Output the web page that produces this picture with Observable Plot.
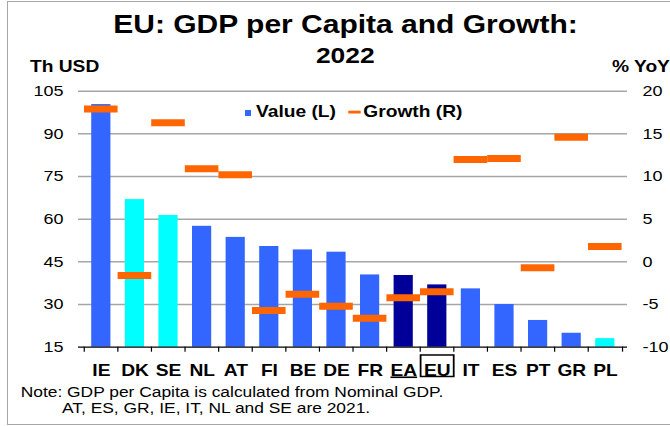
<!DOCTYPE html>
<html>
<head>
<meta charset="utf-8">
<script src="https://cdn.jsdelivr.net/npm/d3@7"></script>
<script src="https://cdn.jsdelivr.net/npm/@observablehq/plot@0.6"></script>
<style>
  html, body { margin: 0; padding: 0; background: #fff; }
  #root { position: relative; width: 670px; height: 426px; overflow: hidden; background: #fff; }
  #frame { position: absolute; left: 7px; top: 1px; width: 720px; height: 424px; box-sizing: border-box; border: 1.5px solid #a6a6a6; }
  #stage { position: absolute; left: 0; top: 0; height: 426px; transform-origin: 0 0; }
  #stage svg { position: absolute; left: 0; top: 0; overflow: visible; }
</style>
</head>
<body>
<div id="root">
  <div id="frame"></div>
  <div id="stage"></div>
</div>
<script>
// ---------- data ----------
const countries = ["IE","DK","SE","NL","AT","FI","BE","DE","FR","EA","EU","IT","ES","PT","GR","PL"];
const gdpPerCapita = [100.3, 66.9, 61.3, 57.5, 53.6, 50.4, 49.2, 48.4, 40.4, 40.2, 36.9, 35.5, 30.0, 24.4, 19.9, 18.0];
const growth = [17.9, -1.6, 16.3, 10.9, 10.2, -5.7, -3.8, -5.2, -6.6, -4.2, -3.5, 12.0, 12.1, -0.7, 14.6, 1.8];
const groups = ["euro","nonEuro","nonEuro","euro","euro","euro","euro","euro","euro","aggregate","aggregate","euro","euro","euro","euro","nonEuro"];
const leftTicks = [15, 30, 45, 60, 75, 90, 105];
const rightTicks = [-10, -5, 0, 5, 10, 15, 20];

const colors = { euro: "#3366ff", nonEuro: "#00ffff", aggregate: "#000099" };
const growthColor = "#ff6600";

// right axis (-10..20) mapped onto left axis (15..105)
const toLeft = g => 15 + (g + 10) * 3;
const toRight = v => (v - 15) / 3 - 10;

const data = countries.map((c, i) => ({ country: c, value: gdpPerCapita[i], growth: growth[i], group: groups[i] }));

// ---------- layout ----------
const SX = 1.2;              // horizontal stretch of the original picture
const W = 670 / SX;
const H = 426;
const ml = 78 / SX, mr = W - 627 / SX, mt = 90.7, mb = H - 346.7;
const step = (W - ml - mr) / countries.length;
const tickLen = 5 * 90 / (H - mt - mb);   // 5px expressed in y units

const stage = document.getElementById("stage");
stage.style.width = W + "px";
stage.style.transform = `scaleX(${SX})`;

const font = "'Liberation Sans', Arial, Helvetica, sans-serif";

const plot = Plot.plot({
  width: W,
  height: H,
  marginLeft: ml,
  marginRight: mr,
  marginTop: mt,
  marginBottom: mb,
  style: { fontFamily: font, fontSize: "15px", color: "#000", background: "transparent", overflow: "visible" },
  x: { domain: countries, padding: 0, label: null },
  y: { domain: [15, 105], label: null },
  marks: [
    Plot.ruleY(leftTicks.filter(d => d > 15), { stroke: "#a6a6a6", strokeWidth: 1.5 }),
    Plot.barY(data, { x: "country", y1: 15, y2: "value", fill: d => colors[d.group], insetLeft: 6, insetRight: 6 }),
    Plot.ruleY([15], { stroke: "#000", strokeWidth: 1.3 }),
    Plot.ruleX(countries, { x: d => d, y1: 15, y2: 15 - tickLen, dx: -step / 2, stroke: "#000", strokeWidth: 1 }),
    Plot.ruleX([countries[countries.length - 1]], { x: d => d, y1: 15, y2: 15 - tickLen, dx: step / 2, stroke: "#000", strokeWidth: 1 }),
    Plot.tickY(data, { x: "country", y: d => toLeft(d.growth), stroke: growthColor, strokeWidth: 7 }),
    Plot.axisY({ anchor: "left", ticks: leftTicks, tickSize: 0, tickPadding: 15 / SX, tickFormat: d => String(d), fontSize: 15 }),
    Plot.axisY({ anchor: "right", ticks: leftTicks, tickSize: 0, tickPadding: 15 / SX, tickFormat: d => String(Math.round(toRight(d))), fontSize: 15 }),
    Plot.axisX({ tickSize: 0, tickPadding: 17, fontWeight: "bold", fontSize: 16 })
  ]
});
stage.appendChild(plot);

// decorate EA (underline) and EU (boxed) labels
const svgSel = d3.select(plot);
svgSel.selectAll("text").each(function () {
  const t = d3.select(this);
  if (t.text() === "EA") t.style("text-decoration", "underline");
});
const xs = plot.scale("x");
const ys = plot.scale("y");
const euIdx = countries.indexOf("EU");
let euX = ml + euIdx * step;
try { const v = xs.apply("EU"); if (isFinite(v)) euX = v; } catch (e) {}
const baseY = ys.apply(15);
svgSel.append("rect")
  .attr("x", euX + 0.5).attr("y", baseY + 8.3)
  .attr("width", step - 1).attr("height", 21.5)
  .attr("fill", "none").attr("stroke", "#000").attr("stroke-width", 1.5);

// ---------- overlay texts (titles, units, legend, notes) ----------
const ov = d3.select(stage).append("svg")
  .attr("width", W).attr("height", H)
  .style("font-family", font);

function txt(x, y, s, size, weight, anchor) {
  ov.append("text").attr("x", x).attr("y", y)
    .attr("font-size", size).attr("font-weight", weight || "normal")
    .attr("text-anchor", anchor || "start").attr("fill", "#000").text(s);
}
txt(345.5 / SX, 33.3, "EU: GDP per Capita and Growth:", 25, "bold", "middle");
txt(345.3 / SX, 62.7, "2022", 22, "bold", "middle");
txt(30 / SX, 71.7, "Th USD", 16, "bold");
txt(612 / SX, 71.7, "% YoY", 16, "bold");

// legend
ov.append("rect").attr("x", 245 / SX).attr("y", 110).attr("width", 6 / SX).attr("height", 6).attr("fill", colors.euro);
txt(256 / SX, 116.7, "Value (L)", 16, "bold");
ov.append("rect").attr("x", 348.3 / SX).attr("y", 110.7).attr("width", 12.4 / SX).attr("height", 2.8).attr("fill", growthColor);
txt(363.3 / SX, 116.7, "Growth (R)", 16, "bold");

// notes
txt(20.7 / SX, 396.7, "Note: GDP per Capita is calculated from Nominal GDP.", 14.5);
txt(62 / SX, 413.3, "AT, ES, GR, IE, IT, NL and SE are 2021.", 14.5);
</script>
</body>
</html>
